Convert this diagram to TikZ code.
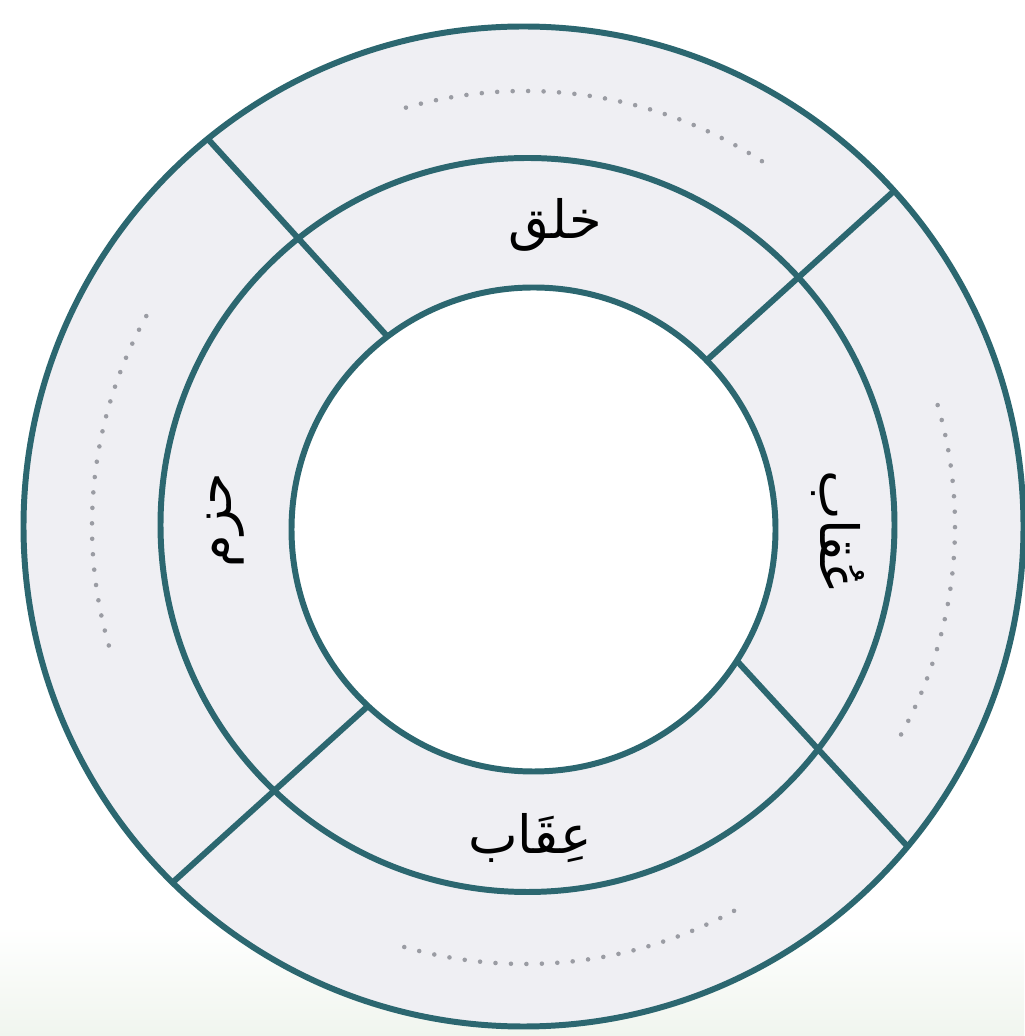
\documentclass[tikz,border=0pt]{standalone}
\usepackage{fontspec}
\usepackage{xcolor}
\usepackage{tikz}
\TeXXeTstate=1
\newfontfamily\arabicfont[Script=Arabic]{DejaVu Sans}
\definecolor{RingTeal}{HTML}{2C6770}
\definecolor{RingFill}{HTML}{EFEFF3}
\definecolor{DotGrey}{HTML}{9A9CA3}
\definecolor{BgGreen}{HTML}{F0F5EE}
\tikzset{
  ringline/.style={RingTeal,line width=1.7pt},
  dotarc/.style={DotGrey,line width=1.3pt,line cap=round,dash pattern=on 0pt off 4.4pt},
  ringlabel/.style={font=\arabicfont\fontsize{15}{18}\selectfont,text=black,inner sep=1pt}
}

\begin{document}
\begin{tikzpicture}[x=1cm,y=1cm]
\path[use as bounding box] (0,0) rectangle (10.24,10.36);
\fill[white] (0,0) rectangle (10.24,10.36);
\shade[top color=white,bottom color=BgGreen] (0,0) rectangle (10.24,1.1);
\coordinate (outerC) at (5.235,5.095);
\coordinate (middleC) at (5.275,5.110);
\coordinate (innerC) at (5.335,5.065);
\fill[RingFill] (outerC) circle[radius=5.0];
\fill[white] (innerC) circle[radius=2.42];
\draw[dotarc] (5.25,5.10) ++(57:4.35) arc[start angle=57,end angle=107,radius=4.35];
\draw[dotarc] (5.25,5.10) ++(151:4.33) arc[start angle=151,end angle=198,radius=4.33];
\draw[dotarc] (5.25,5.10) ++(254:4.38) arc[start angle=254,end angle=300.5,radius=4.38];
\draw[dotarc] (5.25,5.10) ++(-29:4.30) arc[start angle=-29,end angle=18,radius=4.30];
\draw[ringline] (outerC) circle[radius=5.0];
\draw[ringline] (middleC) circle[radius=3.67];
\draw[ringline] (innerC) circle[radius=2.42];
\coordinate (ulOuter) at (2.07,8.98);
\coordinate (ulInner) at (3.87,7.00);
\coordinate (urOuter) at (8.94,8.45);
\coordinate (urInner) at (7.07,6.76);
\coordinate (lrOuter) at (9.08,1.89);
\coordinate (lrInner) at (7.37,3.75);
\coordinate (llOuter) at (1.72,1.53);
\coordinate (llInner) at (3.68,3.30);
\draw[ringline] (ulOuter) -- (ulInner);
\draw[ringline] (urOuter) -- (urInner);
\draw[ringline] (lrOuter) -- (lrInner);
\draw[ringline] (llOuter) -- (llInner);
\node[ringlabel] (khalq) at (5.55,8.11) {\beginR خلق\endR};
\node[ringlabel] (iqab) at (5.30,1.98) {\beginR عِقَاب\endR};
\node[ringlabel,rotate=90] (hazm) at (2.26,5.16) {\beginR حزم\endR};
\node[ringlabel,rotate=-90] (uqab) at (8.38,5.04) {\beginR عُقاب\endR};
\end{tikzpicture}
\end{document}
